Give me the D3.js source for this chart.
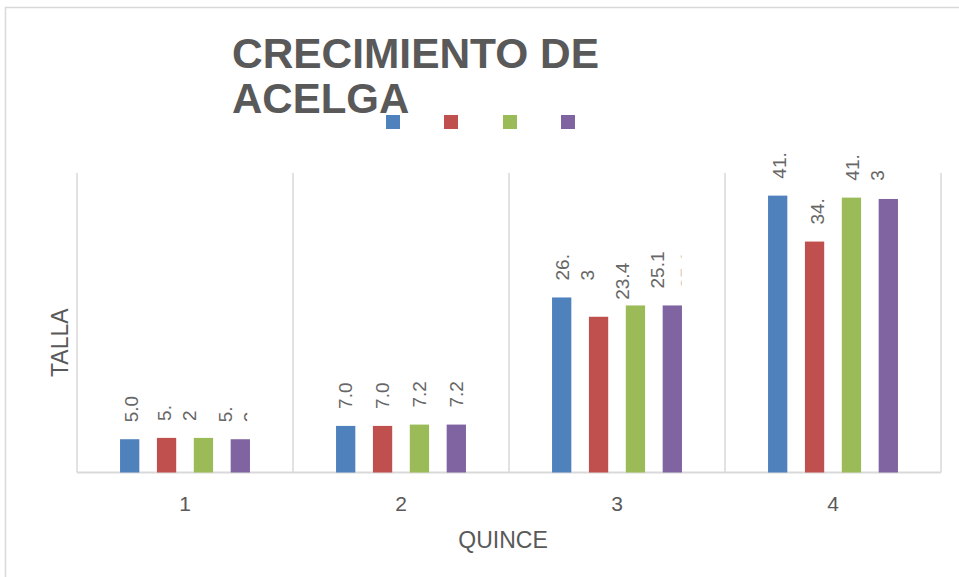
<!DOCTYPE html>
<html>
<head>
<meta charset="utf-8">
<script src="https://cdn.jsdelivr.net/npm/d3@7"></script>
<style>
  html, body { margin: 0; padding: 0; background: #fff; }
  svg { display: block; font-family: "Liberation Sans", Arial, sans-serif; }
</style>
</head>
<body>
<svg width="959" height="577"></svg>
<script>
const width = 959;
const height = 577;

// datos
const quincenas = ['1', '2', '3', '4'];
const series = ['s1', 's2', 's3', 's4'];
const serie1 = [5.0, 7.0, 26.3, 41.6];
const serie2 = [5.2, 7.0, 23.4, 34.7];
const serie3 = [5.2, 7.2, 25.1, 41.3];
const serie4 = [5.0, 7.2, 25.1, 41.1];
const colores = ['#4F81BD', '#C0504D', '#9BBB59', '#8064A2'];

// etiquetas tal como se ven (con el salto de linea que mete el grafico)
const etiquetas1 = ['5.0', '7.0', '26.\n3', '41.'];
const etiquetas2 = ['5.\n2', '7.0', '23.4', '34.'];
const etiquetas3 = ['', '7.2', '25.1', '41.\n3'];
const etiquetas4 = ['5.\n2', '7.2', '25.1', ''];
// desplazamiento horizontal de cada etiqueta para evitar choques
const corrimiento = [[2, 0, 1, 2], [-2, 0, 24, 3], [0, 0, 22, 1], [-15, 0, 15, 0]];
// etiquetas cortadas por el borde (ancho visible desde la izquierda del texto)
const recorte = [[null, null, null, null], [null, null, null, null], [null, null, null, null], [34, null, 6, null]];

const valores = [serie1, serie2, serie3, serie4];
const etiquetas = [etiquetas1, etiquetas2, etiquetas3, etiquetas4];

const svg = d3.select('svg');
const gris = '#595959';
const linea = '#D9D9D9';

// marco del grafico
svg.append('path')
  .attr('d', `M5.5,${height} V7.5 H${width}`)
  .attr('fill', 'none').attr('stroke', linea).attr('stroke-width', 1.5);

const margin = {left: 77, right: 18, top: 173, bottom: 104.5};
const plotW = width - margin.left - margin.right;

const x0 = d3.scaleBand().domain(quincenas).range([margin.left, margin.left + plotW]);
const x1 = d3.scaleBand().domain(series).range([0, x0.bandwidth()])
  .paddingInner(0.477).paddingOuter(1.167);
const y = d3.scaleLinear().domain([0, 45]).range([height - margin.bottom, margin.top]);

// separadores de categoria
const bordes = quincenas.map(q => x0(q)).concat([x0(quincenas[3]) + x0.bandwidth()]);
svg.append('g').selectAll('line').data(bordes).enter().append('line')
  .attr('x1', d => d).attr('x2', d => d)
  .attr('y1', y(45)).attr('y2', y(0))
  .attr('stroke', linea).attr('stroke-width', 1.5);

svg.append('line')
  .attr('x1', margin.left).attr('x2', margin.left + plotW)
  .attr('y1', y(0)).attr('y2', y(0))
  .attr('stroke', linea).attr('stroke-width', 2);

// barras
const barras = svg.append('g');
series.forEach((s, i) => {
  barras.selectAll('rect.' + s).data(valores[i]).enter().append('rect')
    .attr('class', s)
    .attr('x', (d, j) => x0(quincenas[j]) + x1(s))
    .attr('width', x1.bandwidth())
    .attr('y', d => y(d))
    .attr('height', d => y(0) - y(d))
    .attr('fill', colores[i]);
});

// etiquetas de datos (giradas)
const defs = svg.append('defs');
const etq = svg.append('g');
series.forEach((s, i) => {
  valores[i].forEach((v, j) => {
    const texto = etiquetas[i][j];
    if (!texto) return;
    const cx = x0(quincenas[j]) + x1(s) + x1.bandwidth() / 2 + corrimiento[i][j];
    const base = y(v) - 17;
    const g = etq.append('g');
    if (recorte[i][j] != null) {
      const id = `clip-${i}-${j}`;
      defs.append('clipPath').attr('id', id).append('rect')
        .attr('x', cx - 12).attr('y', 0).attr('width', recorte[i][j]).attr('height', height);
      g.attr('clip-path', `url(#${id})`);
    }
    texto.split('\n').forEach((ln, k) => {
      const lx = cx + k * 25;
      g.append('text')
        .attr('transform', `translate(${lx},${base}) rotate(-90)`)
        .attr('dominant-baseline', 'central')
        .attr('fill', '#666')
        .attr('font-size', 19)
        .text(ln);
    });
  });
});

// eje x
svg.append('g').selectAll('text').data(quincenas).enter().append('text')
  .attr('x', d => x0(d) + x0.bandwidth() / 2)
  .attr('y', 511)
  .attr('text-anchor', 'middle')
  .attr('fill', gris).attr('font-size', 21)
  .text(d => d);

svg.append('text')
  .attr('x', 503).attr('y', 548)
  .attr('text-anchor', 'middle')
  .attr('fill', gris).attr('font-size', 23)
  .text('QUINCE');

svg.append('text')
  .attr('transform', `translate(68,${(y(0) + y(45)) / 2 + 20}) rotate(-90)`)
  .attr('text-anchor', 'middle')
  .attr('fill', gris).attr('font-size', 23)
  .text('TALLA');

// titulo
svg.append('text')
  .attr('x', 232).attr('y', 68)
  .attr('fill', gris).attr('font-size', 42).attr('font-weight', 'bold')
  .attr('textLength', 367).attr('lengthAdjust', 'spacingAndGlyphs')
  .text('CRECIMIENTO DE');
svg.append('text')
  .attr('x', 232).attr('y', 113)
  .attr('fill', gris).attr('font-size', 42).attr('font-weight', 'bold')
  .text('ACELGA');

// leyenda sin nombres
const leyX = [386, 444, 503, 561];
svg.append('g').selectAll('rect').data(colores).enter().append('rect')
  .attr('x', (d, i) => leyX[i]).attr('y', 115)
  .attr('width', 14).attr('height', 14)
  .attr('fill', d => d);
</script>
</body>
</html>
